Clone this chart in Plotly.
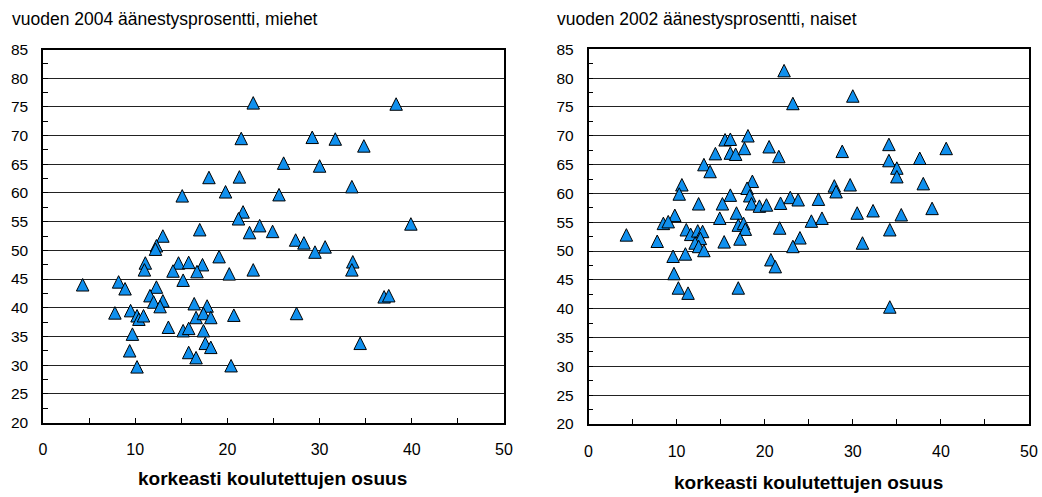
import plotly.graph_objects as go
from plotly.subplots import make_subplots

# miehet 2004: korkeasti koulutettujen osuus (x) vs äänestysprosentti (y)
men_x = [22.8, 38.3, 21.5, 29.2, 31.7, 34.8, 26.1, 30.0, 18.0, 21.3, 33.5, 19.8, 15.1,
         25.6, 21.7, 21.2, 39.9, 23.5, 17.0, 22.4, 24.9, 13.0, 27.4, 28.3, 30.6, 29.5,
         12.3, 12.2, 19.1, 33.6, 33.5, 22.8, 11.1, 11.0, 14.7, 15.8, 17.3, 14.1, 16.7,
         20.2, 15.2, 4.3, 8.2, 8.9, 12.3, 11.6, 12.0, 13.0, 12.7, 16.4, 17.8, 37.0, 37.5,
         16.6, 17.4, 18.2, 20.7, 27.5, 7.8, 9.5, 10.2, 10.4, 10.9, 13.6, 15.2, 15.8, 17.4,
         9.7, 17.6, 18.2, 34.4, 15.8, 16.6, 9.4, 10.2, 20.4]
men_y = [75.7, 75.5, 69.5, 69.7, 69.4, 68.2, 65.2, 64.7, 62.7, 62.8, 61.1, 60.2, 59.5,
         59.7, 56.7, 55.5, 54.6, 54.3, 53.6, 53.1, 53.3, 52.5, 51.8, 51.3, 50.6, 49.7,
         50.8, 50.2, 48.9, 48.0, 46.6, 46.6, 47.8, 46.6, 47.8, 47.9, 47.5, 46.4, 46.3,
         45.9, 44.8, 44.0, 44.5, 43.3, 43.6, 42.1, 41.0, 41.2, 40.2, 40.7, 40.3, 41.9, 42.1,
         38.3, 39.0, 38.3, 38.7, 39.0, 39.1, 39.5, 38.6, 38.0, 38.6, 36.6, 36.0, 36.4, 36.0,
         35.4, 33.8, 33.1, 33.8, 32.2, 31.3, 32.5, 29.7, 29.9]

# naiset 2002
women_x = [22.2, 23.2, 30.0, 15.5, 16.1, 18.1, 16.1, 16.7, 17.7, 14.4, 20.5, 21.6, 28.8,
           34.1, 40.6, 34.1, 35.0, 35.0, 37.6, 38.0, 13.1, 13.8, 10.6, 10.3, 18.6, 18.0,
           18.3, 16.1, 27.9, 28.1, 29.7, 15.2, 12.5, 18.5, 19.4, 20.2, 21.8, 22.9, 23.8,
           26.1, 16.8, 14.9, 9.8, 8.5, 9.05, 17.0, 17.6, 17.8, 21.7, 25.3, 26.5, 30.5, 32.3,
           35.5, 39.0, 34.2, 24.0, 23.2, 31.1, 4.3, 11.1, 11.6, 12.4, 12.95, 12.7, 12.1, 12.5,
           13.1, 7.8, 15.4, 17.2, 9.6, 11.0, 20.7, 21.2, 9.7, 10.2, 11.3, 17.0, 34.2]
women_y = [81.3, 75.6, 76.9, 69.3, 69.4, 70.0, 67.0, 66.8, 67.8, 66.9, 68.1, 66.4, 67.3,
           68.5, 67.8, 65.7, 64.4, 62.9, 66.1, 61.7, 65.0, 63.8, 61.5, 59.9, 62.1, 60.9,
           59.6, 59.7, 61.3, 60.3, 61.5, 58.2, 58.2, 58.2, 57.8, 58.0, 58.3, 59.3, 58.9,
           59.0, 56.6, 55.7, 56.2, 54.8, 55.1, 54.5, 54.8, 53.8, 54.0, 55.2, 55.7, 56.6, 57.0,
           56.3, 57.4, 53.7, 52.3, 50.8, 51.4, 52.8, 53.7, 52.9, 53.5, 53.4, 52.2, 51.4, 50.8,
           50.1, 51.7, 51.6, 52.1, 49.1, 49.5, 48.5, 47.3, 46.1, 43.6, 42.7, 43.6, 40.3]

x_ticks = [0, 10, 20, 30, 40, 50]
y_ticks = [20, 25, 30, 35, 40, 45, 50, 55, 60, 65, 70, 75, 80, 85]

FONT = "Liberation Sans, Arial, sans-serif"
W, H = 1042, 497


def fx(px):
    return px / W


def fy(py):
    return 1 - py / H


fig = make_subplots(rows=1, cols=2)

marker = dict(symbol="arrow-down", angle=180, size=12.5, standoff=6.25,
              color="#1090EE", line=dict(color="#000000", width=1))
fig.add_trace(go.Scatter(x=men_x, y=men_y, mode="markers", marker=marker,
                         showlegend=False), row=1, col=1)
fig.add_trace(go.Scatter(x=women_x, y=women_y, mode="markers", marker=marker,
                         showlegend=False), row=1, col=2)

xax = dict(range=[0, 50], tickvals=x_ticks, ticks="inside", ticklen=5, tickcolor="#000",
           showgrid=False, zeroline=False, showline=True, linecolor="#000", linewidth=1.5,
           mirror=True, ticklabelstandoff=12, automargin=False,
           tickfont=dict(family=FONT, size=16, color="#000"),
           minor=dict(dtick=5, ticks="inside", ticklen=5, tickcolor="#000", showgrid=False))
yax = dict(range=[20, 85], tickvals=y_ticks, ticks="inside", ticklen=5, tickcolor="#000",
           showgrid=True, gridcolor="#222", gridwidth=1, zeroline=False, showline=True,
           linecolor="#000", linewidth=1.5, mirror=True, ticklabelstandoff=10,
           automargin=False, tickfont=dict(family=FONT, size=15.5, color="#000"),
           minor=dict(dtick=2.5, ticks="inside", ticklen=5, tickcolor="#000", showgrid=False))

fig.update_layout(
    width=W, height=H,
    margin=dict(l=0, r=0, t=0, b=0),
    paper_bgcolor="white", plot_bgcolor="white",
    xaxis=dict(xax, domain=[fx(43), fx(504)]),
    xaxis2=dict(xax, domain=[fx(588.5), fx(1029)]),
    yaxis=dict(yax, domain=[fy(422.5), fy(49.5)]),
    yaxis2=dict(yax, domain=[fy(424), fy(49.3)]),
)

notes = [
    ("vuoden 2004 äänestysprosentti, miehet", 10, 19, "left", 17.5, False),
    ("vuoden 2002 äänestysprosentti, naiset", 555, 19, "left", 17.5, False),
    ("korkeasti koulutettujen osuus", 272, 478, "center", 19, True),
    ("korkeasti koulutettujen osuus", 808, 482, "center", 19, True),
]
for text, px_x, px_y, anchor, size, bold in notes:
    fig.add_annotation(
        text=f"<b>{text}</b>" if bold else text,
        xref="paper", yref="paper", x=fx(px_x), y=fy(px_y),
        xanchor=anchor, yanchor="middle", showarrow=False,
        font=dict(family=FONT, size=size, color="#000"),
    )

# page body has a default 8px margin; drop it so the figure fills the window
fig.write_html("out.html", config={"displayModeBar": False},
               post_script="document.body.style.margin='0px';")
